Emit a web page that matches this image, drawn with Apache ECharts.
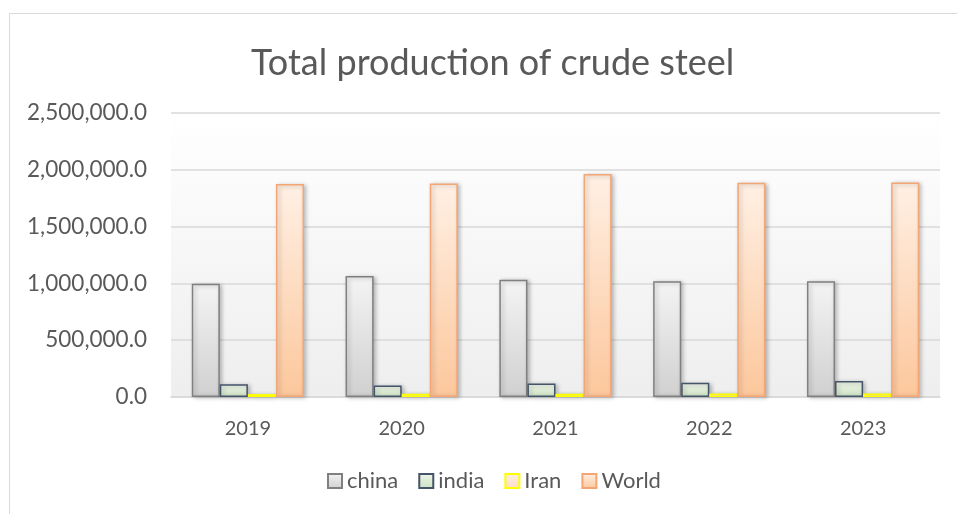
<!DOCTYPE html>
<html>
<head>
<meta charset="utf-8">
<script src="https://cdn.jsdelivr.net/npm/echarts@6/dist/echarts.min.js"></script>
<style>
  html, body { margin: 0; padding: 0; background: #fff; }
  #main { width: 957px; height: 514px; }
</style>
</head>
<body>
<div id="main"></div>
<script>
// 数据
var years = ['2019', '2020', '2021', '2022', '2023'];
var china = [996300, 1064700, 1032800, 1018000, 1019100];
var india = [111400, 100300, 118200, 125300, 140800];
var iran = [25600, 29000, 28500, 30600, 31100];
var world = [1875000, 1880000, 1962000, 1885000, 1888000];

var myChart = echarts.init(document.getElementById('main'));

function grad(top, bottom) {
    return new echarts.graphic.LinearGradient(0, 0, 0, 1, [
        { offset: 0, color: top },
        { offset: 1, color: bottom }
    ]);
}

function barSeries(name, data, top, bottom, border) {
    return {
        name: name,
        type: 'bar',
        data: data,
        barGap: '0%',
        barCategoryGap: '27%',
        itemStyle: {
            color: grad(top, bottom),
            borderColor: border,
            borderWidth: 1.5,
            shadowBlur: 4,
            shadowOffsetX: 2,
            shadowOffsetY: 1,
            shadowColor: 'rgba(0,0,0,0.25)'
        }
    };
}

var font = 'Lato, "Open Sans", sans-serif';

option = {
    animation: false,
    textStyle: { fontFamily: font },
    title: {
        text: 'Total production of crude steel',
        left: 246,
        top: 40,
        textStyle: { fontSize: 36, fontWeight: 'normal', color: '#595959', fontFamily: font }
    },
    graphic: [{
        type: 'rect',
        shape: { x: 9.5, y: 13.5, width: 960, height: 520 },
        style: { fill: 'none', stroke: '#d9d9d9', lineWidth: 1 },
        z: -10
    }],
    legend: {
        bottom: 17,
        left: 322,
        itemWidth: 14,
        itemHeight: 14,
        itemGap: 20,
        icon: 'rect',
        textStyle: { fontSize: 22, color: '#595959', fontFamily: font },
        data: ['china', 'india', 'Iran', 'World']
    },
    grid: {
        left: 171,
        right: 17,
        top: 113,
        bottom: 117,
        show: true,
        borderWidth: 0,
        backgroundColor: grad('#ffffff', '#eeeeee')
    },
    xAxis: {
        type: 'category',
        data: years,
        axisLine: { lineStyle: { color: '#d9d9d9', width: 1.5 } },
        axisTick: { show: false },
        axisLabel: { fontSize: 20, color: '#595959', margin: 22 }
    },
    yAxis: {
        type: 'value',
        min: 0,
        max: 2500000,
        interval: 500000,
        axisLine: { show: false },
        axisTick: { show: false },
        splitLine: { lineStyle: { color: '#d9d9d9', width: 1.5 } },
        axisLabel: {
            fontSize: 22.5,
            color: '#595959',
            margin: 24,
            formatter: function (v) {
                return v.toLocaleString('en-US', { minimumFractionDigits: 1, maximumFractionDigits: 1 });
            }
        }
    },
    series: [
        barSeries('china', china, '#f4f4f4', '#d0d0d0', '#808080'),
        barSeries('india', india, '#eef5ea', '#cde2c2', '#44546a'),
        barSeries('Iran', iran, '#fff0e4', '#fddcc2', '#ffff00'),
        barSeries('World', world, '#fff0e4', '#fcc79c', '#f4a574')
    ]
};

myChart.setOption(option);
</script>
</body>
</html>
